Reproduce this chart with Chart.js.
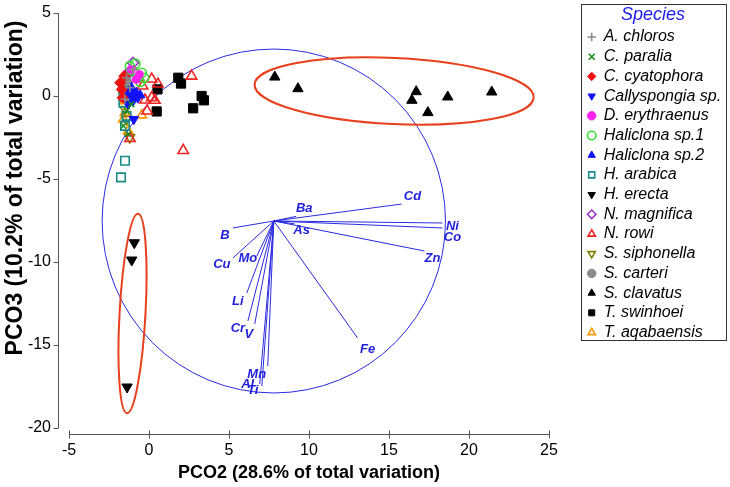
<!DOCTYPE html>
<html>
<head>
<meta charset="utf-8">
<script src="https://cdn.jsdelivr.net/npm/chart.js@4.4.1/dist/chart.umd.min.js"></script>
<style>
  body { margin: 0; background: #fff; }
</style>
</head>
<body>
<canvas id="pco-chart" width="730" height="487"></canvas>
<script>
// PCO2 vs PCO3 ordination, sponge species + element vectors

var species = ['A. chloros', 'C. paralia', 'C. cyatophora', 'Callyspongia sp.', 'D. erythraenus',
  'Haliclona sp.1', 'Haliclona sp.2', 'H. arabica', 'H. erecta', 'N. magnifica', 'N. rowi',
  'S. siphonella', 'S. carteri', 'S. clavatus', 'T. swinhoei', 'T. aqabaensis'];

// one x list and one y list per species, same order as above
var pointsX = [
  [-1.4, -1.2, -1.5, -1.0],
  [-1.6, -1.4, -1.3, -1.1],
  [-1.8, -1.7, -1.55, -1.65],
  [-0.95, -1.2, -1.0, -1.3, -0.7],
  [-1.1, -0.8, -0.6],
  [-1.0, -0.7, -0.45, -1.2, -0.55, -0.3, -0.85],
  [-1.2, -0.8, -0.55, -0.9, -1.1],
  [-1.6, -1.6, -1.5, -1.5, -1.75, -1.4],
  [-0.92, -1.08, -1.37],
  [-1.0, -1.3],
  [2.66, 0.17, 0.56, -0.25, 0.17, 0.37, -0.12, 2.14, -1.19, -0.4],
  [-1.2, -1.5, -1.4, -1.6],
  [-1.4, -1.5, -1.25, -1.45, -1.3],
  [7.86, 9.31, 16.7, 16.43, 17.43, 18.67, 21.42],
  [1.83, 2.0, 0.53, 3.29, 3.43, 2.76, 0.48],
  [-0.45, -1.6, -1.5, -1.55, -1.3]
];
var pointsY = [
  [1.1, 0.5, -0.2, 1.6],
  [-1.8, -0.9, -2.3, -0.5],
  [0.8, 0.4, 1.2, -0.1],
  [-1.4, 0.0, -0.3, -0.5, -0.1],
  [1.6, 1.0, 1.3],
  [1.5, 1.1, 1.4, 1.8, 0.85, 1.1, 1.95],
  [0.3, 0.2, 0.05, 0.0, 0.5],
  [0.3, -0.4, -1.8, -3.9, -4.9, -1.2],
  [-8.84, -9.88, -17.53],
  [2.0, 1.4],
  [1.2, 1.02, 0.72, -0.24, -0.1, -0.26, -0.9, -3.28, -2.56, 0.6],
  [-2.5, -0.8, -1.4, 0.1],
  [1.2, 0.9, 1.4, 0.55, 0.8],
  [1.14, 0.44, 0.26, -0.26, -1.0, -0.06, 0.24],
  [1.1, 0.75, 0.4, 0.0, -0.26, -0.74, -0.93],
  [-1.15, -1.4, -1.0, -0.3, -2.1]
];

// element vectors (correlation overlay), all start at the circle centre
var vectorNames = ['Cd', 'Ba', 'B', 'As', 'Ni', 'Co', 'Zn', 'Cu', 'Mo', 'Li', 'Cr', 'V', 'Mn', 'Al', 'Ti', 'Fe'];
var vectorX = [15.78, 9.2, 5.24, 9.1, 18.34, 18.34, 17.22, 5.24, 6.74, 6.11, 6.18, 6.61, 7.42, 6.92, 7.05, 13.04];
var vectorY = [-6.51, -7.25, -7.95, -7.7, -7.65, -7.95, -9.34, -9.76, -9.64, -11.87, -13.55, -13.73, -16.27, -17.35, -17.47, -14.58];
var circleCentre = [7.8, -7.53];
var circleRadius = [10.73, 10.36];

// groupings drawn as ellipses: centre x, centre y, half width, half height (data units)
var groupEllipseX = [15.32, -1.03];
var groupEllipseY = [0.3, -13.1];
var groupEllipseRx = [8.73, 0.81];
var groupEllipseRy = [1.99, 6.02];

var xTicks = [-5, 0, 5, 10, 15, 20, 25];
var yTicks = [-20, -15, -10, -5, 0, 5];

var xTitle = 'PCO2 (28.6% of total variation)';
var yTitle = 'PCO3 (10.2% of total variation)';

// marker look per species: pointStyle, colour, filled, rotation, radius
var markers = [
  ['cross', '#8a8a8a', false, 0, 4.5],
  ['crossRot', '#1c8c1c', false, 0, 4],
  ['rectRot', '#ee1111', true, 0, 5.5],
  ['triangle', '#1212ff', true, 180, 5.5],
  ['circle', '#ff22ee', true, 0, 4],
  ['circle', '#33dd33', false, 0, 4.5],
  ['triangle', '#1212ff', true, 0, 5.5],
  ['rect', '#1a8a8a', false, 0, 6],
  ['triangle', '#000000', true, 180, 6],
  ['rectRot', '#9933cc', false, 0, 5.5],
  ['triangle', '#ee2222', false, 0, 6],
  ['triangle', '#808000', false, 180, 5.5],
  ['circle', '#8a8a8a', true, 0, 4.5],
  ['triangle', '#000000', true, 0, 6],
  ['rect', '#000000', true, 0, 6.5],
  ['triangle', '#ff9900', false, 0, 5.5]
];

// pixel nudges for the vector labels
var labelNudge = [[11, -8], [8, -8], [-8, 7], [7, 7], [10, 3], [10, 9], [8, 7], [-11, 6], [-9, 2],
  [-9, 8], [-10, 7], [-6, 11], [-11, 8], [-12, 0], [-9, 4], [10, 11]];

var FONT = '"Liberation Sans", Arial, sans-serif';
Chart.defaults.font.family = FONT;
Chart.defaults.color = '#000';

var datasets = [];
species.forEach(function (name, i) {
  var m = markers[i];
  datasets.push({
    label: name,
    data: pointsX[i].map(function (x, j) { return {x: x, y: pointsY[i][j]}; }),
    pointStyle: m[0],
    pointRotation: m[3],
    pointRadius: m[4],
    pointBorderColor: m[1],
    pointBackgroundColor: m[2] ? m[1] : 'rgba(0,0,0,0)',
    pointBorderWidth: m[2] ? 1 : 1.6,
    borderColor: m[1],
    backgroundColor: m[2] ? m[1] : 'rgba(0,0,0,0)'
  });
});
vectorNames.forEach(function (name, i) {
  datasets.push({
    label: name,
    data: [{x: circleCentre[0], y: circleCentre[1]}, {x: vectorX[i], y: vectorY[i]}],
    showLine: true,
    pointRadius: 0,
    borderColor: '#2a2ae0',
    borderWidth: 1
  });
});

var overlay = {
  id: 'overlay',
  afterLayout: function (chart) {
    // legend sits a little away from the plot, inside its own frame
    var lg = chart.legend;
    lg.left = 584;
    lg.top = 6;
    lg.right = 730;
  },
  beforeDatasetsDraw: function (chart) {
    var ctx = chart.ctx, sx = chart.scales.x, sy = chart.scales.y;
    function ellipse(cx, cy, rx, ry, rot) {
      var px = sx.getPixelForValue(cx), py = sy.getPixelForValue(cy);
      var rpx = Math.abs(sx.getPixelForValue(cx + rx) - px);
      var rpy = Math.abs(sy.getPixelForValue(cy + ry) - py);
      ctx.beginPath();
      ctx.ellipse(px, py, rpx, rpy, rot, 0, Math.PI * 2);
      ctx.stroke();
    }
    ctx.save();
    ctx.strokeStyle = '#2a2ae0';
    ctx.lineWidth = 1;
    ellipse(circleCentre[0], circleCentre[1], circleRadius[0], circleRadius[1], 0);
    ctx.strokeStyle = '#e8401c';
    ctx.lineWidth = 2;
    ellipse(groupEllipseX[0], groupEllipseY[0], groupEllipseRx[0], groupEllipseRy[0], 0.047);
    ellipse(groupEllipseX[1], groupEllipseY[1], groupEllipseRx[1], groupEllipseRy[1], 0.055);
    ctx.restore();
  },
  afterDatasetsDraw: function (chart) {
    var ctx = chart.ctx, sx = chart.scales.x, sy = chart.scales.y;
    ctx.save();
    ctx.font = 'italic bold 13px ' + FONT;
    ctx.fillStyle = '#2222dd';
    ctx.textAlign = 'center';
    ctx.textBaseline = 'middle';
    vectorNames.forEach(function (name, i) {
      ctx.fillText(name, sx.getPixelForValue(vectorX[i]) + labelNudge[i][0],
        sy.getPixelForValue(vectorY[i]) + labelNudge[i][1]);
    });
    ctx.restore();
  },
  afterDraw: function (chart) {
    var ctx = chart.ctx, sx = chart.scales.x, sy = chart.scales.y, area = chart.chartArea;
    ctx.save();
    ctx.strokeStyle = '#555';
    ctx.lineWidth = 1;
    // detached axes
    var axX = Math.round(area.left - 11) + 0.5;
    var axY = Math.round(area.bottom + 6) + 0.5;
    ctx.beginPath();
    ctx.moveTo(axX, sy.getPixelForValue(yTicks[yTicks.length - 1]));
    ctx.lineTo(axX, sy.getPixelForValue(yTicks[0]));
    yTicks.forEach(function (v) {
      var p = Math.round(sy.getPixelForValue(v)) + 0.5;
      ctx.moveTo(axX - 5, p);
      ctx.lineTo(axX, p);
    });
    ctx.moveTo(sx.getPixelForValue(xTicks[0]), axY);
    ctx.lineTo(sx.getPixelForValue(xTicks[xTicks.length - 1]), axY);
    xTicks.forEach(function (v) {
      var p = Math.round(sx.getPixelForValue(v)) + 0.5;
      ctx.moveTo(p, axY - 4);
      ctx.lineTo(p, axY + 4);
    });
    ctx.stroke();

    // legend frame
    ctx.strokeStyle = '#333';
    ctx.strokeRect(581.5, 4.5, 145, 336);

    // y axis title
    ctx.translate(16, 188);
    ctx.rotate(-Math.PI / 2);
    ctx.font = 'bold 23px ' + FONT;
    ctx.fillStyle = '#000';
    ctx.textAlign = 'center';
    ctx.textBaseline = 'middle';
    ctx.fillText(yTitle, 0, 0);
    ctx.restore();
  }
};

var ctx = document.getElementById('pco-chart').getContext('2d');
var chart = new Chart(ctx, {
  type: 'scatter',
  data: { datasets: datasets },
  options: {
    responsive: false,
    animation: false,
    events: [],
    layout: { padding: { left: 0, right: 43, top: 13, bottom: 0 } },
    scales: {
      x: {
        type: 'linear',
        min: xTicks[0],
        max: xTicks[xTicks.length - 1],
        grid: { display: false, drawTicks: true, tickLength: 12 },
        border: { display: false },
        ticks: { stepSize: 5, padding: 0.5, font: { size: 16 }, color: '#000' },
        title: { display: true, text: xTitle, font: { size: 18, weight: 'bold' }, color: '#000', padding: { top: 0, bottom: 3 } },
        afterFit: function (s) { s.height = 59; }
      },
      y: {
        type: 'linear',
        min: yTicks[0],
        max: yTicks[yTicks.length - 1],
        grid: { display: false, drawTicks: true, tickLength: 15 },
        border: { display: false },
        ticks: { stepSize: 5, padding: 3, font: { size: 16 }, color: '#000' },
        afterFit: function (s) { s.width = 69; }
      }
    },
    plugins: {
      tooltip: { enabled: false },
      legend: {
        position: 'right',
        align: 'start',
        maxWidth: 138,
        title: {
          display: true,
          text: 'Species',
          color: '#1a1aee',
          font: { size: 18, style: 'italic', lineHeight: 1 },
          padding: { top: 0, bottom: 1.3 }
        },
        labels: {
          usePointStyle: true,
          boxWidth: 8,
          boxHeight: 6,
          padding: 3.7,
          color: '#000',
          font: { size: 16, style: 'italic' },
          filter: function (item) { return item.datasetIndex < species.length; }
        }
      }
    }
  },
  plugins: [overlay]
});
</script>
</body>
</html>
